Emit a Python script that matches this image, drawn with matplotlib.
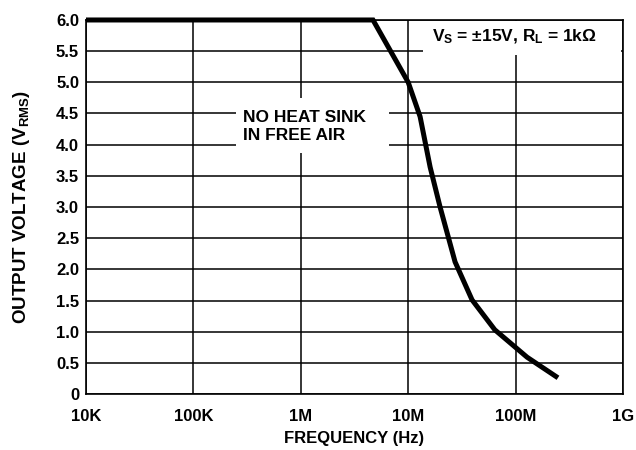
import numpy as np
import matplotlib
matplotlib.use("Agg")
import matplotlib.pyplot as plt
from matplotlib.patches import Rectangle

# output voltage swing vs frequency
freq = [1e4, 4.7e6, 1.0e7, 1.29e7, 1.6e7, 1.98e7, 2.73e7, 3.93e7, 6.4e7, 1.28e8, 2.48e8]
vout = [6.0, 6.0, 5.0, 4.45, 3.64, 3.0, 2.12, 1.51, 1.03, 0.59, 0.26]

xticks = [1e4, 1e5, 1e6, 1e7, 1e8, 1e9]
xlabels = ["10K", "100K", "1M", "10M", "100M", "1G"]
yticks = np.arange(0, 6.01, 0.5)
ylabels = ["0"] + [f"{v:.1f}" for v in yticks[1:]]

plt.rcParams["font.family"] = ["Liberation Sans", "DejaVu Sans"]
plt.rcParams["font.weight"] = "bold"
plt.rcParams["mathtext.fontset"] = "custom"
plt.rcParams["mathtext.rm"] = "Liberation Sans:bold"
plt.rcParams["mathtext.it"] = "Liberation Sans:bold"
plt.rcParams["mathtext.bf"] = "Liberation Sans:bold"

fig = plt.figure(figsize=(6.36, 4.5), dpi=100)
ax = fig.add_axes([0.1352, 0.1244, 0.8444, 0.8312])

ax.plot(freq, vout, color="black", lw=3.6, solid_joinstyle="miter",
        solid_capstyle="butt", clip_on=False, zorder=5)

ax.set_xscale("log")
ax.set_xlim(1e4, 1e9)
ax.set_ylim(0, 6)
ax.set_xticks(xticks)
ax.set_xticklabels(xlabels)
ax.set_yticks(yticks)
ax.set_yticklabels(ylabels)
ax.minorticks_off()
ax.tick_params(length=0, labelsize=12, colors="black")
ax.tick_params(axis="x", pad=10.5)
ax.tick_params(axis="y", pad=5)
for lbl in ax.get_xticklabels() + ax.get_yticklabels():
    lbl.set_fontweight("bold")

ax.grid(True, color="black", lw=1.1)
ax.set_axisbelow(True)
for s in ax.spines.values():
    s.set_linewidth(1.2)

ax.set_xlabel("FREQUENCY (Hz)", fontsize=12, fontweight="bold", labelpad=5)
ax.set_ylabel("OUTPUT VOLTAGE (V$_{RMS}$)", fontsize=13.5, fontweight="bold", labelpad=17)

# white boxes that break the grid behind the notes
ax.add_patch(Rectangle((0.279, 0.644), 0.285, 0.147, transform=ax.transAxes,
                       facecolor="white", edgecolor="none", zorder=2.5))
ax.add_patch(Rectangle((0.628, 0.906), 0.368, 0.092, transform=ax.transAxes,
                       facecolor="white", edgecolor="none", zorder=2.5))

ax.text(0.292, 0.715, "NO HEAT SINK\nIN FREE AIR", transform=ax.transAxes,
        fontsize=12.5, fontweight="bold", ha="left", va="center",
        linespacing=1.3, zorder=6)
ax.text(0.644, 0.955, r"$V_S$ = ±15V, $R_L$ = 1kΩ", transform=ax.transAxes,
        fontsize=12.5, fontweight="bold", ha="left", va="center", zorder=6)

fig.savefig("out.png", dpi=100)
